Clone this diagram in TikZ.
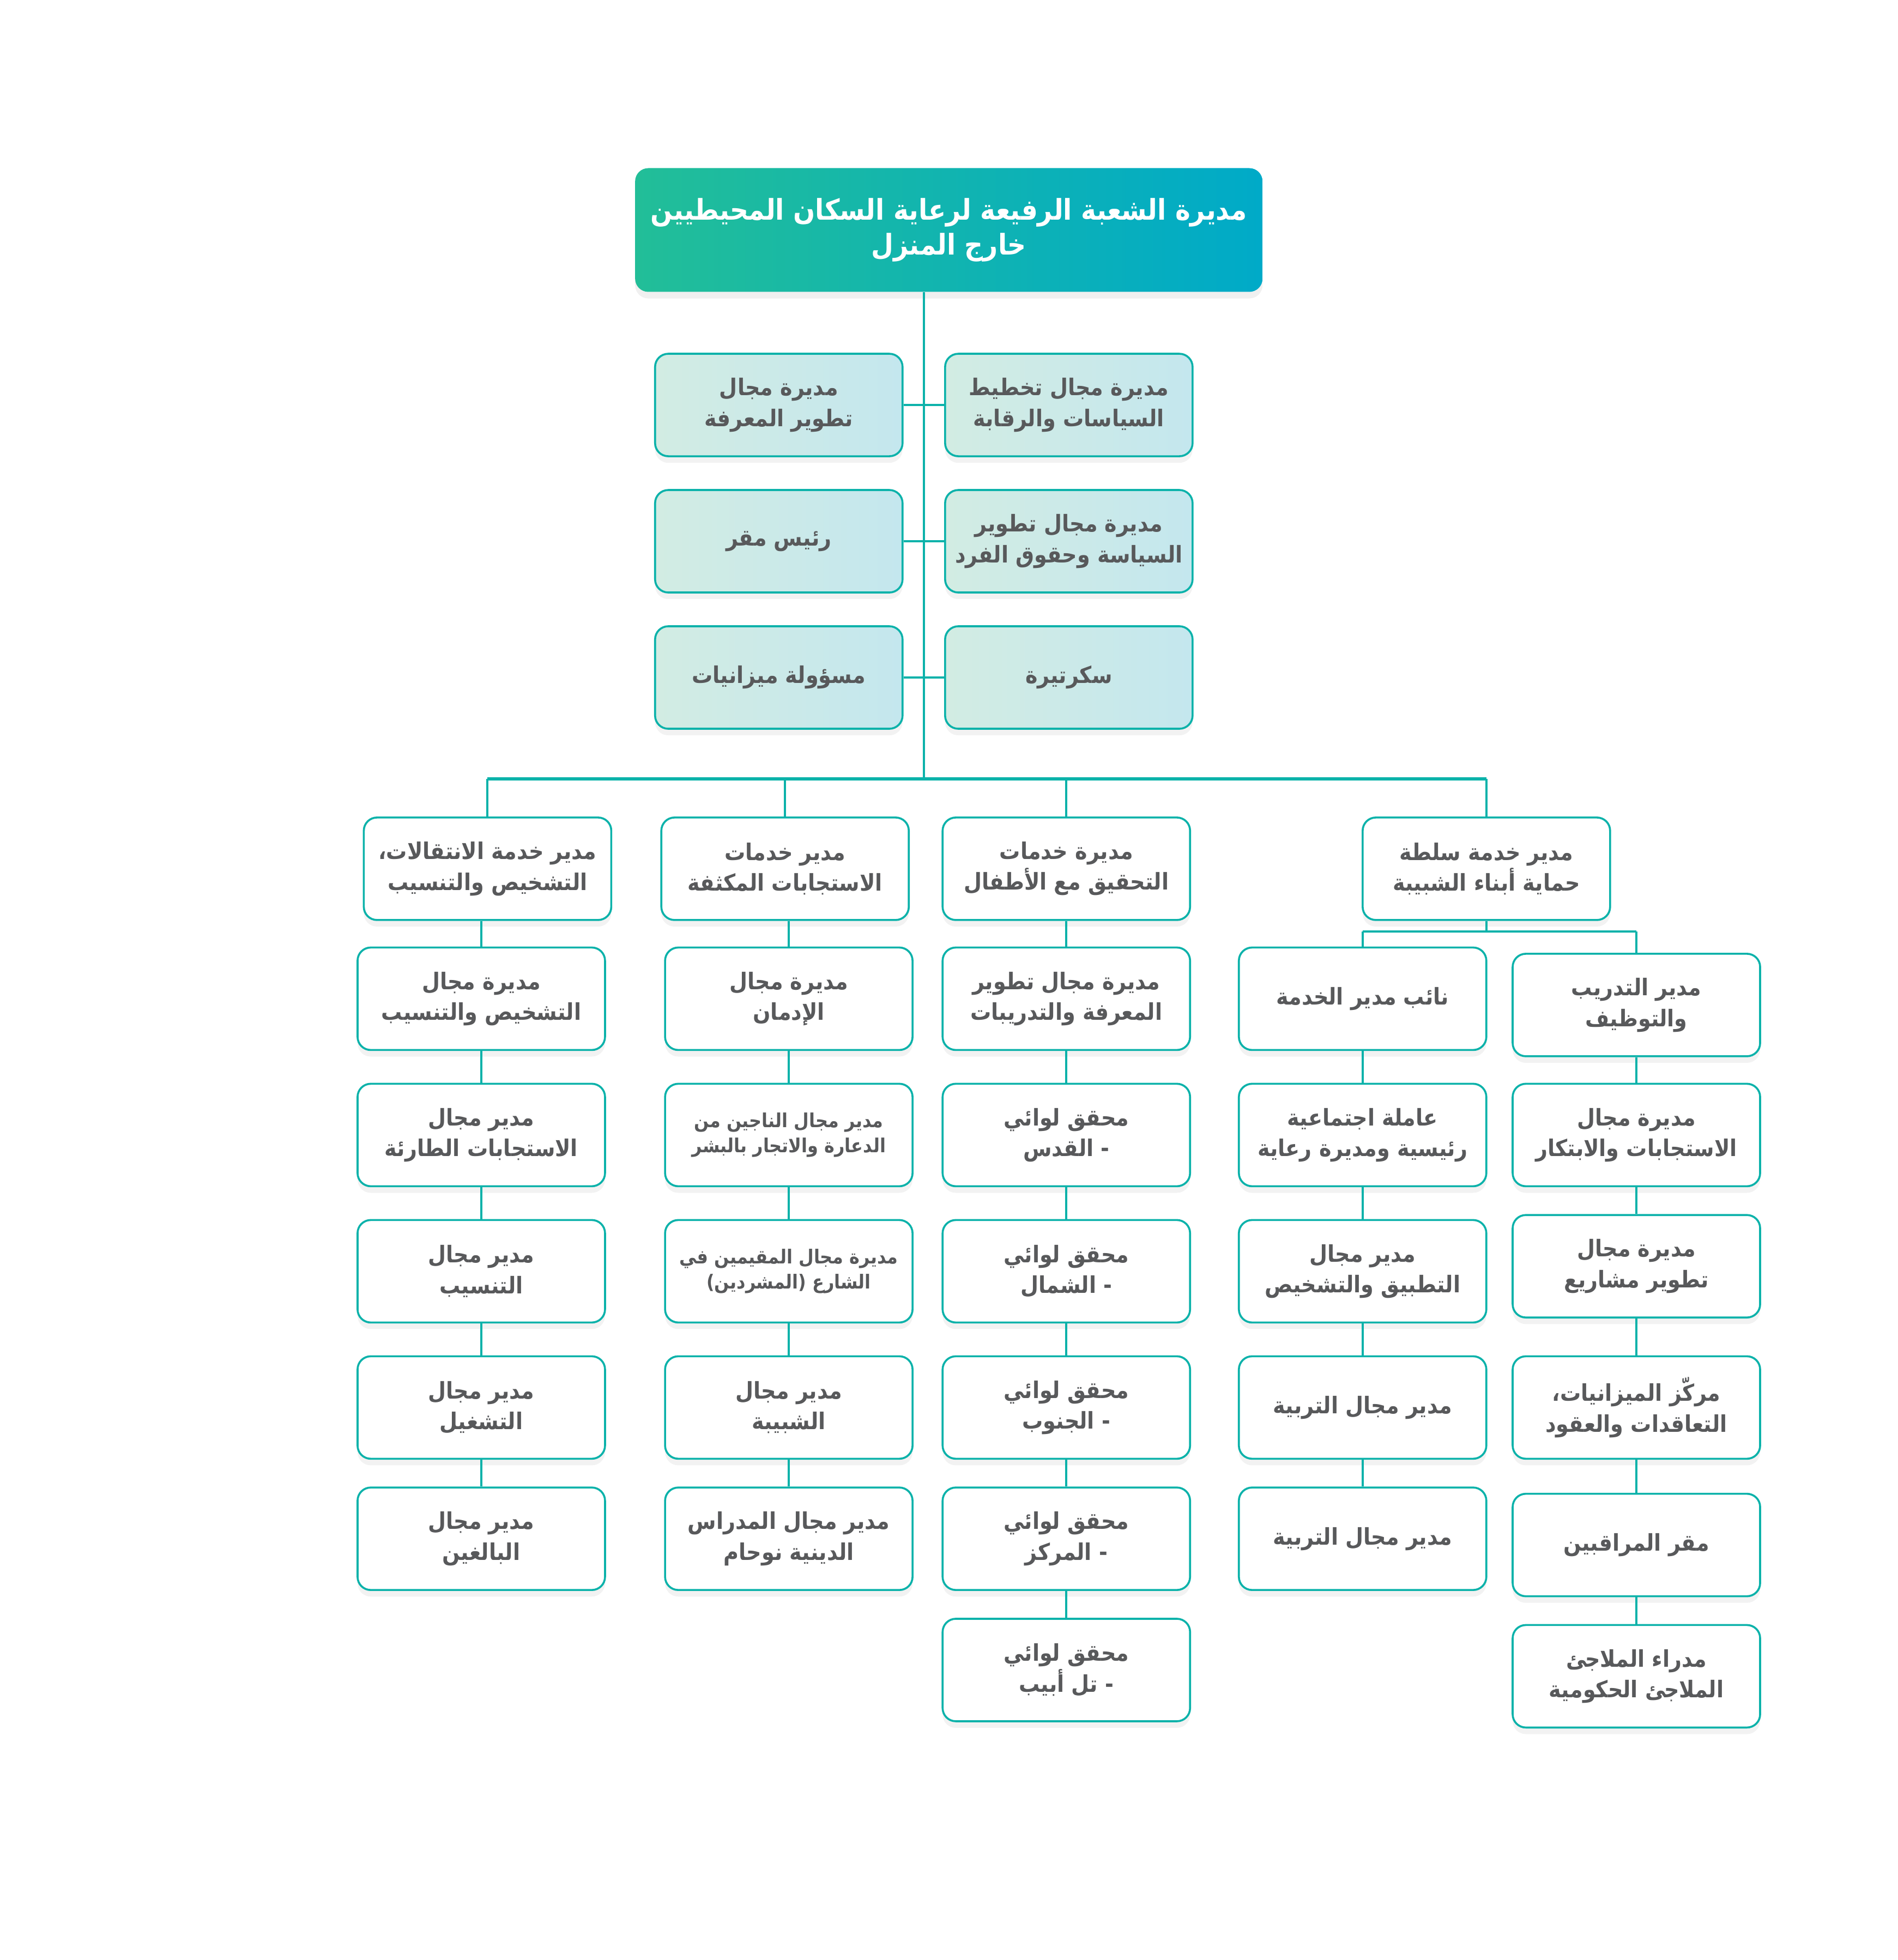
\documentclass[tikz,border=0pt]{standalone}
\usepackage{fontspec}
\newfontfamily\arabicfont[Script=Arabic,FakeStretch=0.9]{DejaVu Sans}
\TeXXeTstate=1
\definecolor{orggreen} {RGB}{34,190,152}
\definecolor{orgblue}  {RGB}{0,170,200}
\definecolor{orgline}  {RGB}{12,178,170}
\definecolor{orgsoftl} {RGB}{210,236,227}
\definecolor{orgsoftr} {RGB}{196,231,238}
\definecolor{orggray}  {RGB}{88,89,91}
\usetikzlibrary{shadows}
\newcommand{\arl}[1]{\beginR#1\endR}
\tikzset{
  topbox/.style={rectangle,rounded corners=6pt,left color=orggreen,right color=orgblue,
                 draw=none,text=white,minimum width=10.04cm,minimum height=1.98cm,
                 font=\arabicfont\bfseries\fontsize{13}{16}\selectfont,align=center,
                 drop shadow={opacity=0.12,shadow xshift=0pt,shadow yshift=-3pt}},
  staffbox/.style={rectangle,rounded corners=6pt,draw=orgline,line width=0.9pt,
                   left color=orgsoftl,right color=orgsoftr,text=orggray,inner xsep=2pt,
                   minimum width=3.96cm,minimum height=1.64cm,
                   font=\arabicfont\bfseries\fontsize{10.5}{14}\selectfont,align=center,
                   drop shadow={opacity=0.1,shadow xshift=0pt,shadow yshift=-3pt}},
  unitbox/.style={rectangle,rounded corners=6pt,draw=orgline,line width=0.9pt,
                  fill=white,text=orggray,inner xsep=2pt,
                  minimum width=3.96cm,minimum height=1.64cm,
                  font=\arabicfont\bfseries\fontsize{10.5}{14}\selectfont,align=center,
                  drop shadow={opacity=0.1,shadow xshift=0pt,shadow yshift=-3pt}},
  smalltxt/.style={font=\arabicfont\bfseries\fontsize{8.8}{11.5}\selectfont},
  link/.style={draw=orgline,line width=1pt},
  bus/.style={draw=orgline,line width=1.6pt},
}

\begin{document}
\begin{tikzpicture}[x=0.02cm,y=-0.02cm]
  \useasboundingbox (0,0) rectangle (1518,1568);

  \node[topbox] (top) at (759,184)
    {\arl{مديرة الشعبة الرفيعة لرعاية السكان المحيطيين}\\\arl{خارج المنزل}};
  \coordinate (bus) at (739,623);
  \draw[link] (bus |- top.south) -- (bus);

  % staff
  \node[staffbox] (sl1) at (623,324) {\arl{مديرة مجال}\\\arl{تطوير المعرفة}};
  \node[staffbox] (sr1) at (855,324) {\arl{مديرة مجال تخطيط}\\\arl{السياسات والرقابة}};
  \node[staffbox] (sl2) at (623,433) {\arl{رئيس مقر}};
  \node[staffbox] (sr2) at (855,433) {\arl{مديرة مجال تطوير}\\\arl{السياسة وحقوق الفرد}};
  \node[staffbox] (sl3) at (623,542) {\arl{مسؤولة ميزانيات}};
  \node[staffbox] (sr3) at (855,542) {\arl{سكرتيرة}};
  \foreach \i in {1,2,3}
    \draw[link] (sl\i.east) -- (sr\i.west);

  % services
  \node[unitbox] (c1) at (390,695) {\arl{مدير خدمة الانتقالات،}\\\arl{التشخيص والتنسيب}};
  \node[unitbox] (c2) at (628,695) {\arl{مدير خدمات}\\\arl{الاستجابات المكثفة}};
  \node[unitbox] (c3) at (853,695) {\arl{مديرة خدمات}\\\arl{التحقيق مع الأطفال}};
  \node[unitbox] (c4) at (1189,695) {\arl{مدير خدمة سلطة}\\\arl{حماية أبناء الشبيبة}};
  \draw[bus] (c1.north |- bus) -- (c4.north |- bus);
  \foreach \c in {1,...,4}
    \draw[link] (c\c.north |- bus) -- (c\c.north);

  % column 1
  \foreach \i/\y/\txt in {
    1/799/{\arl{مديرة مجال}\\\arl{التشخيص والتنسيب}},
    2/908/{\arl{مدير مجال}\\\arl{الاستجابات الطارئة}},
    3/1017/{\arl{مدير مجال}\\\arl{التنسيب}},
    4/1126/{\arl{مدير مجال}\\\arl{التشغيل}},
    5/1231/{\arl{مدير مجال}\\\arl{البالغين}}}
    \node[unitbox] (a\i) at (385,\y) {\txt};

  % column 2
  \node[unitbox] (b1) at (631,799) {\arl{مديرة مجال}\\\arl{الإدمان}};
  \node[unitbox,smalltxt] (b2) at (631,908) {\arl{مدير مجال الناجين من}\\\arl{الدعارة والاتجار بالبشر}};
  \node[unitbox,smalltxt] (b3) at (631,1017) {\arl{مديرة مجال المقيمين في}\\\arl{الشارع (المشردين)}};
  \node[unitbox] (b4) at (631,1126) {\arl{مدير مجال}\\\arl{الشبيبة}};
  \node[unitbox] (b5) at (631,1231) {\arl{مدير مجال المدراس}\\\arl{الدينية نوحام}};

  % column 3
  \node[unitbox] (d1) at (853,799) {\arl{مديرة مجال تطوير}\\\arl{المعرفة والتدريبات}};
  \foreach \i/\y/\place in {2/908/القدس,3/1017/الشمال,4/1126/الجنوب,
                            5/1231/المركز,6/1336/تل أبيب}
    \node[unitbox] (d\i) at (853,\y) {\arl{محقق لوائي}\\\arl{- \place}};

  % column 4
  \foreach \i/\y/\txt in {
    1/799/{\arl{نائب مدير الخدمة}},
    2/908/{\arl{عاملة اجتماعية}\\\arl{رئيسية ومديرة رعاية}},
    3/1017/{\arl{مدير مجال}\\\arl{التطبيق والتشخيص}},
    4/1126/{\arl{مدير مجال التربية}},
    5/1231/{\arl{مدير مجال التربية}}}
    \node[unitbox] (e\i) at (1090,\y) {\txt};
  \foreach \i/\y/\txt in {
    1/804/{\arl{مدير التدريب}\\\arl{والتوظيف}},
    2/908/{\arl{مديرة مجال}\\\arl{الاستجابات والابتكار}},
    3/1013/{\arl{مديرة مجال}\\\arl{تطوير مشاريع}},
    4/1126/{\arl{مركّز الميزانيات،}\\\arl{التعاقدات والعقود}},
    5/1236/{\arl{مقر المراقبين}},
    6/1341/{\arl{مدراء الملاجئ}\\\arl{الملاجئ الحكومية}}}
    \node[unitbox] (f\i) at (1309,\y) {\txt};

  % chains
  \draw[link] (a1.north |- c1.south) -- (a1.north);
  \draw[link] (b1.north |- c2.south) -- (b1.north);
  \draw[link] (d1.north |- c3.south) -- (d1.north);
  \foreach \i [evaluate=\i as \j using int(\i+1)] in {1,...,4}{
    \draw[link] (a\i) -- (a\j);
    \draw[link] (b\i) -- (b\j);
    \draw[link] (e\i) -- (e\j);
  }
  \foreach \i [evaluate=\i as \j using int(\i+1)] in {1,...,5}{
    \draw[link] (d\i) -- (d\j);
    \draw[link] (f\i) -- (f\j);
  }
  \coordinate (split) at (1189,745);
  \draw[link] (c4.south) -- (split);
  \draw[link] (e1.north |- split) -- (f1.north |- split);
  \draw[link] (e1.north |- split) -- (e1.north);
  \draw[link] (f1.north |- split) -- (f1.north);
\end{tikzpicture}
\end{document}
